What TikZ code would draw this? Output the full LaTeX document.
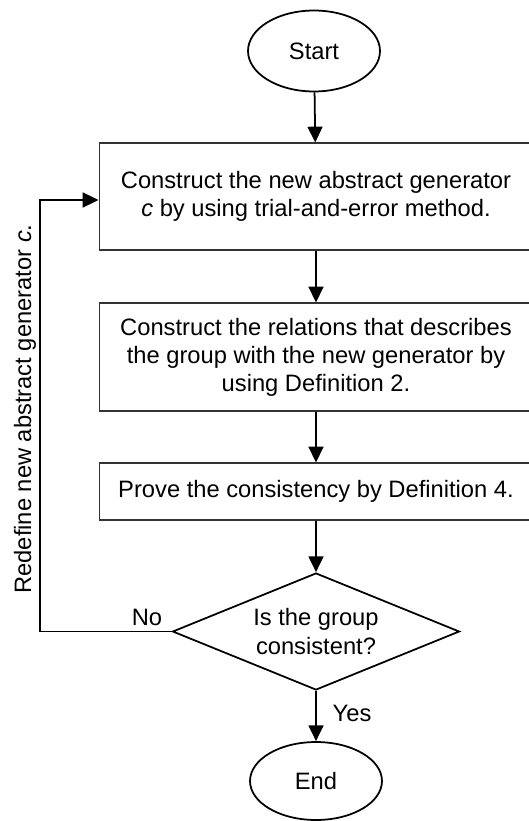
\documentclass[tikz,border=0pt]{standalone}
\usepackage{fontspec}
\setmainfont{Liberation Sans}
\usetikzlibrary{shapes.geometric,arrows.meta}

\begin{document}
\begin{tikzpicture}[x=0.02cm,y=-0.02cm,font=\fontsize{13.5}{16}\selectfont,
    terminal/.style={ellipse, draw, line width=1pt, minimum width=2.64cm, minimum height=1.62cm, inner sep=0pt},
    process/.style={rectangle, draw=black!80, line width=0.6pt, minimum width=8.68cm, align=center, inner sep=0pt},
    decision/.style={diamond, draw, line width=1pt, minimum width=5.74cm, minimum height=2.34cm, shape aspect=2.45, inner sep=0pt, align=center},
    flow/.style={line width=1pt, -{Triangle[length=9pt,width=8.5pt]}}]
  \useasboundingbox (0,0) rectangle (528,821);
  \node[terminal] (start) at (314,51) {Start};
  \node[process, minimum height=2.14cm] (construct) at (316,196.5)
    {Construct the new abstract generator\\ \textit{c} by using trial-and-error method.};
  \node[process, minimum height=2.16cm] (relations) at (316,357)
    {Construct the relations that describes\\ the group with the new generator by\\ using Definition 2.};
  \node[process, minimum height=1.14cm] (prove) at (316,491.5)
    {Prove the consistency by Definition 4.};
  \node[decision] (check) at (316,631.5) {Is the group\\ consistent?};
  \node[terminal, minimum height=1.56cm] (finish) at (316,781) {End};
  \foreach \a/\b in {start/construct,construct/relations,relations/prove,prove/check,check/finish}{
    \draw[flow] (\a) -- (\b);
  }
  % loop back on the left
  \coordinate (cornerA) at (40,631.5);
  \coordinate (cornerB) at (40,200);
  \draw[flow] (check.west) -- (cornerA) -- (cornerB) -- (construct.west |- cornerB);
  \node at (147,617) {No};
  \node at (352,713) {Yes};
  \node[rotate=90] (redefine) at (25,409) {Redefine new abstract generator \textit{c}.};
\end{tikzpicture}
\end{document}
